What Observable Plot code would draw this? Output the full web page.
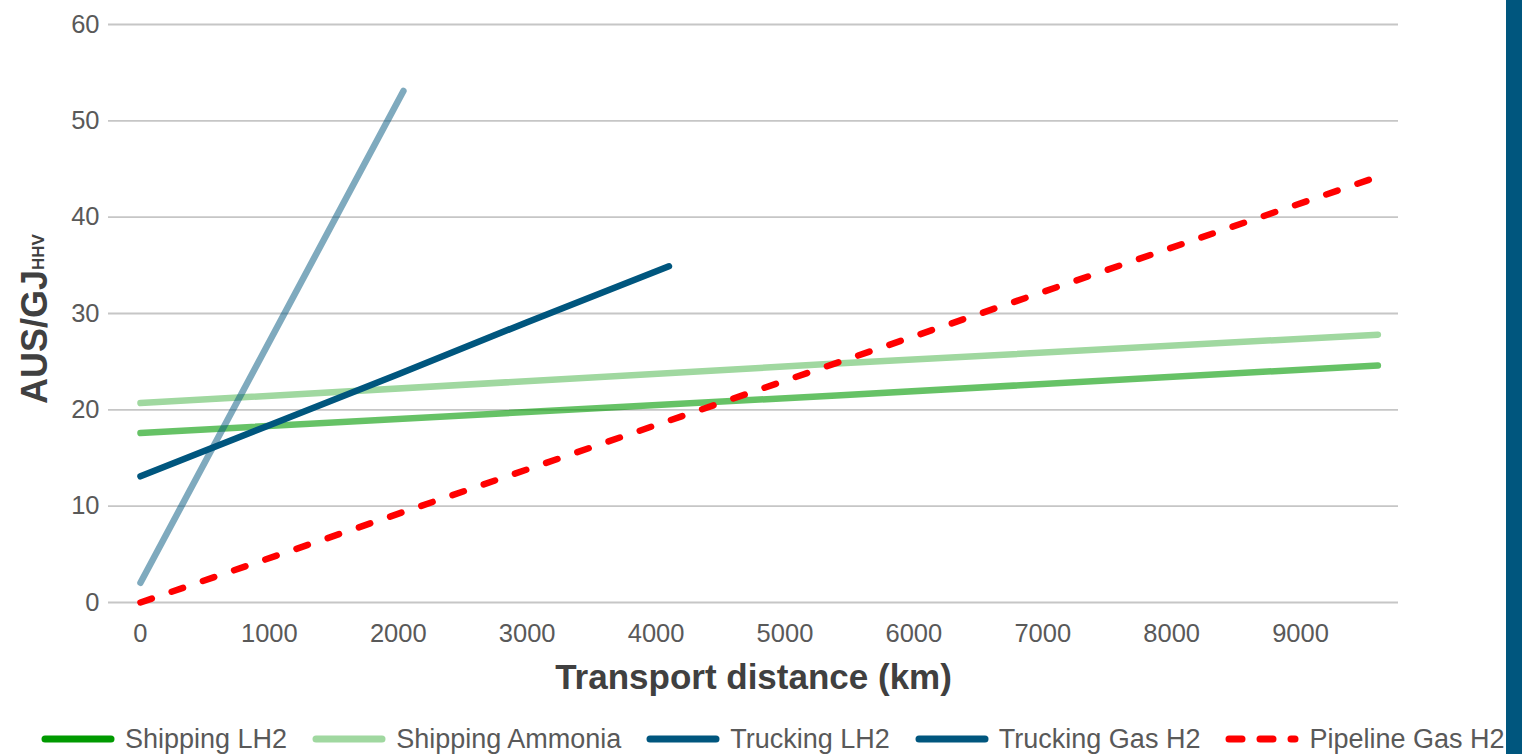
<!DOCTYPE html>
<html><head><meta charset="utf-8">
<script src="https://cdn.jsdelivr.net/npm/d3@7"></script>
<script src="https://cdn.jsdelivr.net/npm/@observablehq/plot@0.6"></script>
<style>
html,body{margin:0;padding:0;background:#fff;overflow:hidden;}
body{width:1522px;height:754px;position:relative;font-family:"Liberation Sans",Arial,sans-serif;}
#chart{position:absolute;left:0;top:0;}
#bar{position:absolute;left:1506px;top:0;width:16px;height:754px;background:#00567e;}
#legend{position:absolute;left:41px;top:722px;height:34px;display:flex;align-items:center;gap:25px;font-size:27px;color:#595959;white-space:nowrap;}
.item{display:flex;align-items:center;}
.item svg{margin-right:10px;display:block;}
</style></head><body>
<div id="chart"></div><div id="legend"></div><div id="bar"></div>
<script>
// ---- data ----
const series = ["Shipping LH2", "Shipping Ammonia", "Trucking LH2", "Trucking Gas H2", "Pipeline Gas H2"];
const xTicks = [0, 1000, 2000, 3000, 4000, 5000, 6000, 7000, 8000, 9000];
const yTicks = [0, 10, 20, 30, 40, 50, 60];

const shippingX = [0, 5400, 9600];
const shippingLH2 = [17.6, 21.5, 24.6];
const shippingAmmonia = [20.7, 24.8, 27.8];

const truckingLH2X = [0, 1000, 2000, 3000, 4100];
const truckingLH2 = [13.1, 18.4, 23.7, 29.1, 34.9];

const truckingGasX = [0, 2040];
const truckingGasH2 = [2.05, 53.1];

const pipelineX = [0, 9600];
const pipelineGasH2 = [0, 44.2];

const xTitle = "Transport distance (km)";

// ---- styles ----
const lineColors = ["#009a00", "#a0d8a0", "#00567e", "#00567e", "#ff0000"];
const lineOpacity = [0.6, 1, 1, 0.5, 1];
const dashes = [null, null, null, null, "12,21"];
const legendDashes = [null, null, null, null, "13,18"];

const toRows = (xs, ys) => xs.map((x, i) => ({x, y: ys[i]}));
const seriesData = [
  toRows(shippingX, shippingLH2),
  toRows(shippingX, shippingAmmonia),
  toRows(truckingLH2X, truckingLH2),
  toRows(truckingGasX, truckingGasH2),
  toRows(pipelineX, pipelineGasH2)
];

const lineMarks = seriesData.map((d, i) => Plot.line(d, {
  x: "x", y: "y",
  stroke: lineColors[i],
  strokeOpacity: lineOpacity[i],
  strokeWidth: 6.5,
  strokeLinecap: "round",
  strokeDasharray: dashes[i] || undefined
}));

const chart = Plot.plot({
  width: 1522, height: 720,
  marginTop: 24, marginBottom: 118, marginLeft: 108, marginRight: 124,
  style: {fontFamily: "Liberation Sans, Arial, sans-serif", background: "transparent", overflow: "visible"},
  x: {domain: [-248, 9760]},
  y: {domain: [0, 60]},
  marks: [
    Plot.ruleY(yTicks, {stroke: "#c6c6c6", strokeWidth: 1.8}),
    Plot.axisY({ticks: yTicks, tickSize: 0, tickPadding: 9, fontSize: 25.5, color: "#595959", label: null}),
    Plot.axisX({ticks: xTicks, tickSize: 0, tickPadding: 21, fontSize: 25.5, color: "#595959", label: null, tickFormat: d => String(d)}),
    ...lineMarks,
    Plot.text([xTitle], {text: d => d, frameAnchor: "bottom", dy: 86, lineAnchor: "bottom", fontSize: 35, fontWeight: "bold", fill: "#404040"})
  ]
});
document.getElementById("chart").appendChild(chart);

// y-axis title with subscript
const yt = d3.select(chart).append("text")
  .attr("transform", "translate(47,319) rotate(-90)")
  .attr("text-anchor", "middle")
  .attr("font-family", "Liberation Sans, Arial, sans-serif")
  .attr("font-weight", "bold")
  .attr("fill", "#404040");
yt.append("tspan").attr("font-size", 36).text("AUS/GJ");
yt.append("tspan").attr("font-size", 17).attr("dy", -3).text("HHV");

// legend
const legend = d3.select("#legend");
series.forEach((name, i) => {
  const item = legend.append("div").attr("class", "item");
  const s = item.append("svg").attr("width", 74).attr("height", 12);
  s.append("line").attr("x1", 4).attr("x2", 70).attr("y1", 6).attr("y2", 6)
    .attr("stroke", lineColors[i]).attr("stroke-width", 7).attr("stroke-linecap", "round")
    .attr("stroke-dasharray", legendDashes[i]);
  item.append("span").text(name);
});
</script>
</body></html>
